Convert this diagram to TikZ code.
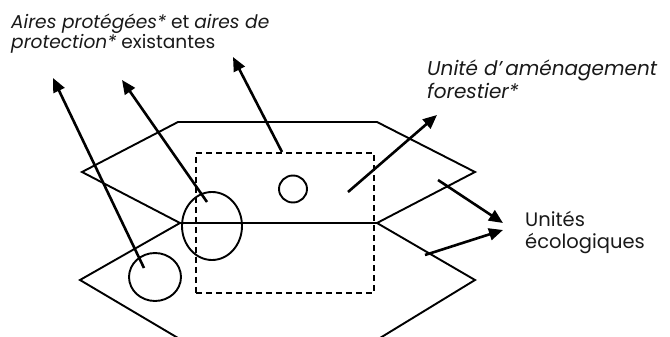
\documentclass[tikz,border=0pt]{standalone}
\usepackage{fontspec}
\setmainfont{Poppins}
\usetikzlibrary{arrows.meta,shapes.geometric}
\begin{document}
\begin{tikzpicture}[x=1pt,y=-1pt,
  layer/.style={line width=1.9pt,line join=miter},
  blob/.style={ellipse,draw,line width=1.9pt,inner sep=0pt},
  frame/.style={draw,dashed,line width=1.8pt,dash pattern=on 6pt off 4pt},
  pointer/.style={line width=2.6pt,-{Triangle[length=14pt,width=12pt]}},
  lbl/.style={anchor=base west,inner sep=0pt,text=black!90}]
\useasboundingbox (0,0) rectangle (670,337);
% layers
\draw[layer] (178,122) -- (377,122) -- (475,172) -- (377,223) -- (180,223) -- (82,172) -- cycle;
\draw[layer] (178,338) -- (80,280) -- (180,223);
\draw[layer] (380,338) -- (475,280) -- (377,223);
% dashed management unit
\node[frame,minimum width=178pt,minimum height=140pt,anchor=north west] (ua) at (195,152) {};
% circles
\node[blob,minimum width=28pt,minimum height=27pt] (c1) at (293,189) {};
\node[blob,minimum width=60pt,minimum height=68pt] (c2) at (212,226) {};
\node[blob,minimum width=52pt,minimum height=48pt] (c3) at (155,277) {};
% labels
\node[lbl,font=\fontsize{18.6}{20}\selectfont] (t1) at (11,29) {\textit{Aires protégées*} et \textit{aires de}};
\node[lbl,font=\fontsize{18.6}{20}\selectfont] (t2) at (11,49) {\textit{protection*} existantes};
\node[lbl,font=\fontsize{20}{20}\selectfont] (t3) at (427,76) {\textit{Unité d’\,aménagement}};
\node[lbl,font=\fontsize{20}{20}\selectfont] (t4) at (427,99) {\textit{forestier*}};
\node[lbl,font=\fontsize{19.5}{20}\selectfont] (t5) at (525,226) {Unités};
\node[lbl,font=\fontsize{19.5}{20}\selectfont] (t6) at (525,248) {écologiques};
% arrow ends
\coordinate (s1) at (144,268); \coordinate (e1) at (53,78);
\coordinate (s2) at (207,202); \coordinate (e2) at (122,80);
\coordinate (s3) at (282,152); \coordinate (e3) at (233,57);
\coordinate (s4) at (348,192); \coordinate (e4) at (437,115);
\coordinate (s5) at (438,180); \coordinate (e5) at (503,223);
\coordinate (s6) at (425,255); \coordinate (e6) at (503,230);
\draw[pointer] (s1) -- (e1);
\draw[pointer] (s2) -- (e2);
\draw[pointer] (s3) -- (e3);
\draw[pointer] (s4) -- (e4);
\draw[pointer] (s5) -- (e5);
\draw[pointer] (s6) -- (e6);
\end{tikzpicture}
\end{document}
